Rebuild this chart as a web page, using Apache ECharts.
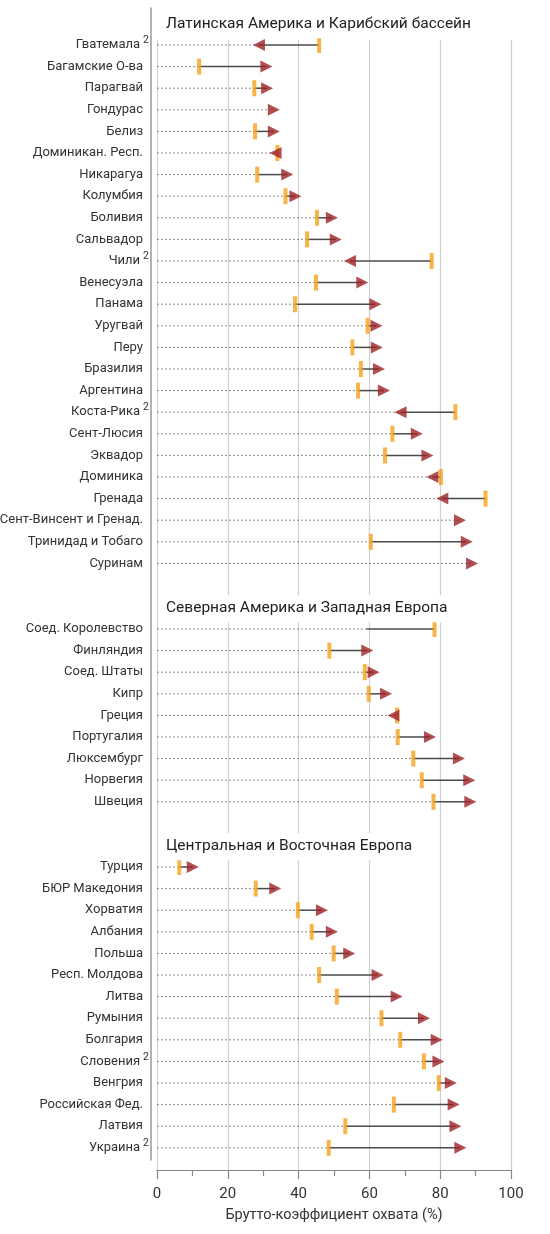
<!DOCTYPE html>
<html>
<head>
<meta charset="utf-8">
<script src="https://cdn.jsdelivr.net/npm/echarts@6/dist/echarts.min.js"></script>
<style>
  html, body { margin: 0; padding: 0; background: #fff; }
  #chart { width: 550px; height: 1234px; }
</style>
</head>
<body>
<div id="chart"></div>
<script>
// данные: начальное значение (оранжевая метка) и конечное (треугольник)
var latinNames = ['Гватемала', 'Багамские О-ва', 'Парагвай', 'Гондурас', 'Белиз', 'Доминикан. Респ.', 'Никарагуа', 'Колумбия', 'Боливия', 'Сальвадор', 'Чили', 'Венесуэла', 'Панама', 'Уругвай', 'Перу', 'Бразилия', 'Аргентина', 'Коста-Рика', 'Сент-Люсия', 'Эквадор', 'Доминика', 'Гренада', 'Сент-Винсент и Гренад.', 'Тринидад и Тобаго', 'Суринам'];
var latinStart = [45.8, 11.9, 27.5, null, 27.7, 34.0, 28.3, 36.3, 45.2, 42.4, 77.6, 44.9, 39.0, 59.5, 55.2, 57.6, 56.8, 84.3, 66.5, 64.4, 80.2, 92.8, null, 60.4, null];
var latinEnd = [28.8, 30.9, 31.1, 33.0, 33.0, 33.5, 36.8, 39.1, 49.4, 50.5, 54.5, 58.0, 61.7, 62.0, 62.1, 62.7, 64.1, 68.8, 73.4, 76.4, 77.8, 80.6, 85.6, 87.5, 89.0];

var westNames = ['Соед. Королевство', 'Финляндия', 'Соед. Штаты', 'Кипр', 'Греция', 'Португалия', 'Люксембург', 'Норвегия', 'Швеция'];
var westStart = [78.4, 48.7, 58.7, 59.8, 67.8, 68.0, 72.4, 74.8, 78.1];
var westEnd = [59.2, 59.4, 61.2, 64.7, 66.8, 77.1, 85.3, 88.2, 88.5];

var eastNames = ['Турция', 'БЮР Македония', 'Хорватия', 'Албания', 'Польша', 'Респ. Молдова', 'Литва', 'Румыния', 'Болгария', 'Словения', 'Венгрия', 'Российская Фед.', 'Латвия', 'Украина'];
var eastStart = [6.3, 27.9, 39.8, 43.7, 49.9, 45.8, 50.8, 63.4, 68.7, 75.4, 79.6, 66.9, 53.2, 48.5];
var eastEnd = [10.1, 33.4, 46.6, 49.4, 54.3, 62.3, 67.7, 75.4, 79.0, 79.5, 83.0, 83.8, 84.3, 85.7];

var sectionTitles = ['Латинская Америка и Карибский бассейн', 'Северная Америка и Западная Европа', 'Центральная и Восточная Европа'];
var footnoted = ['Гватемала', 'Чили', 'Коста-Рика', 'Словения', 'Украина'];
var noArrow = ['Соед. Королевство'];
var xTicks = [0, 20, 40, 60, 80, 100];
var xName = 'Брутто-коэффициент охвата (%)';

var FONT = 'Roboto, sans-serif';
var ORANGE = '#f7a11b';
var RED = '#9e2225';

var chart = echarts.init(document.getElementById('chart'));

var sections = [
  { names: latinNames, start: latinStart, end: latinEnd, top: 34.2 },
  { names: westNames, start: westStart, end: westEnd, top: 618.2 },
  { names: eastNames, start: eastStart, end: eastEnd, top: 856.2 }
];
var ROW = 21.6;

function renderRow(params, api) {
  var i = api.value(0), s = api.value(1), e = api.value(2);
  var vals = [s, e].filter(function (v) { return !isNaN(v); });
  var lo = Math.min.apply(null, vals);
  var p0 = api.coord([0, i]), p1 = api.coord([lo, i]);
  var children = [{
    type: 'line',
    shape: { x1: p0[0], y1: p0[1], x2: p1[0], y2: p1[1] },
    style: { stroke: '#8a8a8a', lineWidth: 1, lineDash: [2, 2] }
  }];
  if (!isNaN(s) && !isNaN(e)) {
    var a = api.coord([s, i]), b = api.coord([e, i]);
    children.push({
      type: 'line',
      shape: { x1: a[0], y1: a[1], x2: b[0], y2: b[1] },
      style: { stroke: '#4a4a4a', lineWidth: 1.5 }
    });
  }
  return { type: 'group', children: children };
}

var grids = [
  // основная сетка с осью X
  { left: 157, right: 39, top: 40, bottom: 64, outerBoundsMode: 'none' },
  // левая вертикальная линия
  { left: 151, width: 1, top: 8, bottom: 74, outerBoundsMode: 'none' }
];
var xAxes = [
  {
    gridIndex: 0, type: 'value', min: 0, max: 100, interval: 20,
    axisLine: { show: true, lineStyle: { color: '#888', width: 1.2 } },
    axisTick: { show: true, length: 9, lineStyle: { color: '#888', width: 1.2 } },
    minorTick: { show: true, splitNumber: 2, length: 6, lineStyle: { color: '#888', width: 1.2 } },
    splitLine: { show: true, lineStyle: { color: '#cfcfcf', width: 1.2 } },
    axisLabel: { margin: 17, fontFamily: FONT, fontSize: 15, color: '#333',
      formatter: function (v) { return xTicks.indexOf(v) >= 0 ? String(v) : ''; } },
    name: xName, nameLocation: 'middle', nameGap: 38,
    nameTextStyle: { fontFamily: FONT, fontSize: 14.5, color: '#333' }
  },
  { gridIndex: 1, type: 'value', show: false }
];
var yAxes = [
  { gridIndex: 0, type: 'value', show: false },
  { gridIndex: 1, type: 'value', axisLine: { show: true, lineStyle: { color: '#999', width: 1.5 } },
    axisTick: { show: false }, axisLabel: { show: false }, splitLine: { show: false } }
];
var series = [];
var titles = [];

sections.forEach(function (sec, k) {
  var gi = k + 2;
  grids.push({ left: 157, right: 39, top: sec.top, height: sec.names.length * ROW, outerBoundsMode: 'none' });
  xAxes.push({ gridIndex: gi, type: 'value', min: 0, max: 100, show: false });
  yAxes.push({
    gridIndex: gi, type: 'category', data: sec.names, inverse: true,
    axisLine: { show: false }, axisTick: { show: false }, splitLine: { show: false },
    axisLabel: {
      margin: 8,
      formatter: function (v) {
        return footnoted.indexOf(v) >= 0 ? '{n|' + v + '}{s|2}' : '{m|' + v + '}';
      },
      rich: {
        m: { fontFamily: FONT, fontSize: 13, color: '#333', padding: [0, 6, 0, 0] },
        n: { fontFamily: FONT, fontSize: 13, color: '#333' },
        s: { fontFamily: FONT, fontSize: 10.5, color: '#333', padding: [0, 0, 9, 3] }
      }
    }
  });

  var rows = [], marks = [], arrows = [];
  sec.names.forEach(function (name, i) {
    var s = sec.start[i], e = sec.end[i];
    rows.push([i, s, e]);
    if (s !== null) marks.push([s, i]);
    if (e !== null && noArrow.indexOf(name) < 0) {
      arrows.push({ value: [e, i], symbolRotate: (s !== null && e < s) ? 90 : -90 });
    }
  });

  series.push({
    type: 'custom', xAxisIndex: gi, yAxisIndex: gi,
    renderItem: renderRow, data: rows, encode: { x: [1, 2], y: 0 }, z: 2, silent: true
  });
  series.push({
    type: 'scatter', xAxisIndex: gi, yAxisIndex: gi, data: marks,
    symbol: 'rect', symbolSize: [4, 16], itemStyle: { color: ORANGE }, z: 3, silent: true
  });
  series.push({
    type: 'scatter', xAxisIndex: gi, yAxisIndex: gi, data: arrows,
    symbol: 'triangle', symbolSize: [12, 12], itemStyle: { color: RED }, z: 4, silent: true
  });

  titles.push({
    text: sectionTitles[k], left: 160, top: sec.top - 23,
    backgroundColor: '#fff', padding: [5, 6, 6, 6],
    textStyle: { fontFamily: FONT, fontSize: 15.5, fontWeight: 'normal', color: '#222' }
  });
});

var option = {
  animation: false,
  title: titles,
  grid: grids,
  xAxis: xAxes,
  yAxis: yAxes,
  series: series
};

chart.setOption(option);
</script>
</body>
</html>
